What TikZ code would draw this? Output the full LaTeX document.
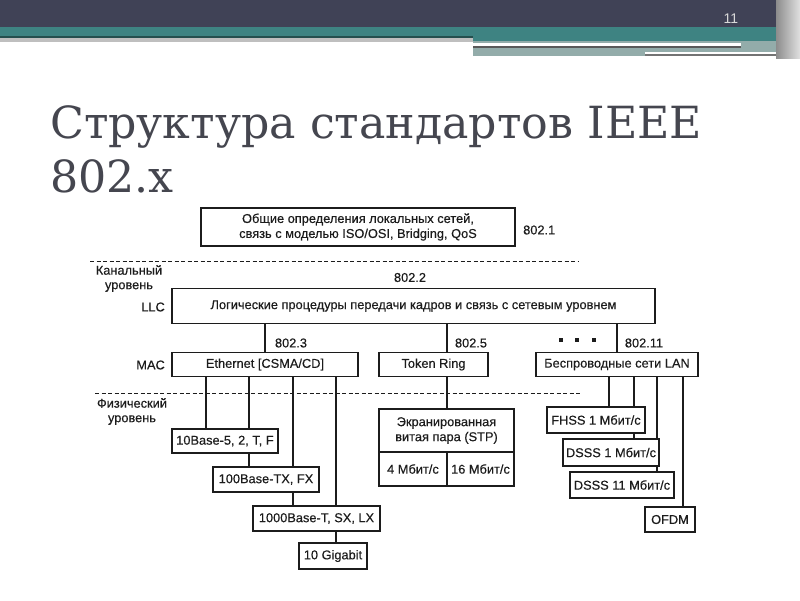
\documentclass[tikz,border=0pt]{standalone}
\usepackage{fontspec}
\setmainfont{Liberation Sans}
\newfontfamily\diagfont{Liberation Sans}[FakeBold=0.35]
\newfontfamily\titlefont{DejaVu Serif}

\definecolor{bannerdark}{HTML}{404256}
\definecolor{bannerteal}{HTML}{3E8382}
\definecolor{bannergrey}{HTML}{93ACAA}
\definecolor{titlegrey}{HTML}{45464F}
\definecolor{ink}{HTML}{1C1C1C}

\begin{document}
\begin{tikzpicture}[x=1pt,y=-1pt]
\useasboundingbox (0,0) rectangle (800,600);
% slide banner
\fill[bannerdark] (0,0) rectangle (800,27);
\fill[bannerteal] (0,27) rectangle (800,36);
\fill[bannerteal!60!black] (0,36) rectangle (473,37.5);
\fill[black!25] (0,37.5) rectangle (473,42);
\fill[bannerteal] (473,36) rectangle (800,41);
\fill[bannergrey] (473,41) rectangle (786,56);
\fill[white] (473,43) rectangle (741,46);
\fill[black!65] (473,46) rectangle (741,48);
\fill[white] (645,52) rectangle (786,54);
\fill[black!55] (645,54) rectangle (786,56);
\shade[left color=black!45, right color=black!12] (776,0) rectangle (800,58);
\node[text=white!85!black, font=\fontsize{14}{14}\selectfont] (pnum) at (731,19) {11};

% title
\begin{scope}[every node/.style={anchor=base west, inner sep=0, text=titlegrey,
              font=\titlefont\fontsize{44.3}{54}\selectfont}]
    \node (title1) at (50,138) {Структура стандартов IEEE};
    \node (title2) at (50,192) {802.x};
\end{scope}

% boxes
\begin{scope}[every node/.style={rectangle, draw=ink, line width=1.1pt, fill=white,
              inner sep=1pt, align=center, text=ink, font=\diagfont\fontsize{12.8}{15}\selectfont}]
    \node[minimum width=314pt, minimum height=38pt] (gen) at (358,227)
        {Общие определения локальных сетей,\\связь с моделью ISO/OSI, Bridging, QoS};
    \node[minimum width=483pt, minimum height=35pt] (llc) at (413.5,306)
        {Логические процедуры передачи кадров и связь с сетевым уровнем};
    \node[minimum width=186pt, minimum height=24pt] (eth) at (265,364.5) {Ethernet [CSMA/CD]};
    \node[minimum width=109pt, minimum height=24pt] (tok) at (433.5,364.5) {Token Ring};
    \node[minimum width=162pt, minimum height=24pt] (wls) at (617,364.5) {Беспроводные сети LAN};
    \node[minimum width=106pt, minimum height=24pt] (b10) at (225,441) {10Base-5, 2, T, F};
    \node[minimum width=106pt, minimum height=25pt] (b100) at (266,479.5) {100Base-TX, FX};
    \node[minimum width=127pt, minimum height=25pt] (b1000) at (316.5,518.5) {1000Base-T, SX, LX};
    \node[minimum width=68pt, minimum height=26pt] (g10) at (333,556) {10 Gigabit};
    \node[minimum width=135pt, minimum height=43pt] (stp) at (446.5,430.5)
        {Экранированная\\витая пара (STP)};
    \node[minimum width=68pt, minimum height=34pt] (m4) at (413,469) {4 Мбит/с};
    \node[minimum width=67pt, minimum height=34pt] (m16) at (480.5,469) {16 Мбит/с};
    \node[minimum width=98pt, minimum height=26pt] (fhss) at (596,420) {FHSS 1 Мбит/с};
    \node[minimum width=96pt, minimum height=27pt] (dsss1) at (611,452.5) {DSSS 1 Мбит/с};
    \node[minimum width=104pt, minimum height=26pt] (dsss11) at (622,485) {DSSS 11 Мбит/с};
    \node[minimum width=50pt, minimum height=25pt] (ofdm) at (670,519.5) {OFDM};
\end{scope}

% labels
\begin{scope}[every node/.style={inner sep=0, align=center, text=ink,
              font=\diagfont\fontsize{12.8}{14.5}\selectfont}]
    \node[anchor=west] (l8021) at (523,230) {802.1};
    \node (lchan) at (129,278.5) {Канальный\\уровень};
    \node (l8022) at (410,277.5) {802.2};
    \node[anchor=east] (lllc) at (165,307) {LLC};
    \node (l8023) at (291,343) {802.3};
    \node[anchor=east] (lmac) at (165,365) {MAC};
    \node (l8025) at (471,343) {802.5};
    \node (l80211) at (644,343) {802.11};
    \node (lphys) at (132,411.5) {Физический\\уровень};
\end{scope}
\foreach \i/\x in {1/561,2/577,3/594}
    \node[fill=ink, minimum size=4.5pt, inner sep=0] (dot\i) at (\x,340) {};

% layer borders
\coordinate (da1) at (90,261);
\coordinate (da2) at (578,261);
\coordinate (db1) at (95,393);
\coordinate (db2) at (580,393);
\draw[ink, line width=0.9pt, dash pattern=on 4pt off 2.5pt] (da1) -- (da2);
\draw[ink, line width=0.9pt, dash pattern=on 4pt off 2.5pt] (db1) -- (db2);

% branch points
\coordinate (e1) at (206,376.5);
\coordinate (e2) at (249,376.5);
\coordinate (e3) at (293,376.5);
\coordinate (e4) at (336,376.5);
\coordinate (w1) at (609,376.5);
\coordinate (w2) at (634,376.5);
\coordinate (w3) at (657,376.5);
\coordinate (w4) at (683,376.5);
\coordinate (t1) at (447,376.5);

\begin{scope}[every edge/.style={draw=ink, line width=1.1pt}]
    \path (eth.north) edge (eth.north |- llc.south);
    \path (t1 |- tok.north) edge (t1 |- llc.south);
    \path (wls.north) edge (wls.north |- llc.south);
    \path (t1) edge (t1 |- stp.north);
    \path (e1) edge (e1 |- b10.north);
    \path (e2) edge (e2 |- b10.north);
    \path (e2 |- b10.south) edge (e2 |- b100.north);
    \path (e3) edge (e3 |- b100.north);
    \path (e3 |- b100.south) edge (e3 |- b1000.north);
    \path (e4) edge (e4 |- b1000.north);
    \path (e4 |- b1000.south) edge (e4 |- g10.north);
    \path (w1) edge (w1 |- fhss.north);
    \path (w2) edge (w2 |- fhss.north);
    \path (w2 |- fhss.south) edge (w2 |- dsss1.north);
    \path (w3) edge (w3 |- dsss1.north);
    \path (w3 |- dsss1.south) edge (w3 |- dsss11.north);
    \path (w4) edge (w4 |- ofdm.north);
\end{scope}
\end{tikzpicture}
\end{document}
